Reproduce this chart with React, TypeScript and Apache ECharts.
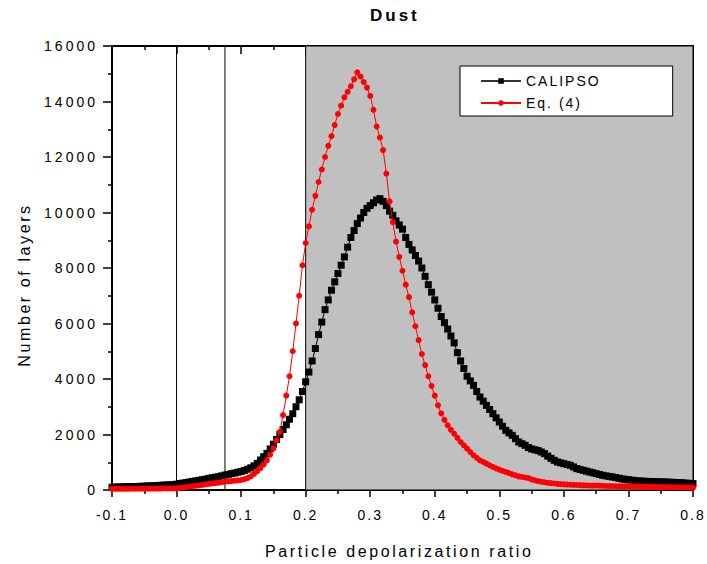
import React, { useEffect, useRef } from "react";
import * as echarts from "echarts";

// x sampling grid of the two curves
const X_START = -0.1;
const X_STEP = 0.005;

// CALIPSO (black squares), one row per 0.05 of depolarization ratio
const CALIPSO: number[] = [
  100, 105, 110, 110, 115, 120, 120, 125, 130, 130,
  140, 145, 150, 155, 160, 170, 175, 180, 190, 195,
  210, 230, 250, 270, 290, 310, 330, 350, 370, 390,
  420, 440, 460, 480, 510, 540, 560, 590, 610, 640,
  670, 700, 750, 800, 870, 960, 1080, 1200, 1320, 1480,
  1650, 1820, 2000, 2180, 2350, 2550, 2750, 3000, 3250, 3550,
  3900, 4250, 4650, 5100, 5600, 6050, 6500, 6850, 7200, 7500,
  7800, 8100, 8400, 8750, 9100, 9350, 9600, 9800, 10000, 10150,
  10250, 10350, 10450, 10500, 10400, 10250, 10050, 9900, 9700, 9550,
  9400, 9100, 8850, 8650, 8450, 8250, 8000, 7700, 7400, 7130,
  6850, 6550, 6250, 6030, 5800, 5550, 5300, 4950, 4650, 4380,
  4100, 3930, 3770, 3550, 3350, 3200, 3050, 2900, 2750, 2600,
  2450, 2300, 2150, 2060, 1970, 1850, 1730, 1670, 1610, 1530,
  1480, 1450, 1420, 1370, 1310, 1220, 1140, 1070, 1010, 980,
  950, 920, 890, 830, 770, 740, 710, 680, 650, 620,
  590, 560, 530, 510, 490, 470, 450, 425, 400, 385,
  370, 355, 340, 330, 320, 315, 310, 305, 300, 295,
  290, 290, 285, 280, 275, 270, 265, 255, 245, 240,
  230,
];

// Eq. (4) (red circles)
const EQ4: number[] = [
  40, 40, 42, 42, 44, 44, 45, 45, 46, 46,
  48, 48, 50, 50, 52, 52, 54, 55, 56, 58,
  60, 75, 90, 105, 120, 135, 150, 165, 180, 200,
  220, 235, 250, 265, 280, 300, 310, 320, 335, 345,
  360, 390, 430, 490, 580, 680, 790, 920, 1070, 1270,
  1500, 1780, 2100, 2700, 3400, 4100, 5000, 6000, 7000, 8100,
  8900, 9500, 10100, 10600, 11100, 11550, 12000, 12400, 12750, 13150,
  13550, 13850, 14150, 14350, 14550, 14800, 15050, 14900, 14700, 14500,
  14200, 13700, 13100, 12700, 12250, 11400, 10400, 9650, 8950, 8400,
  7900, 7400, 6950, 6400, 5900, 5400, 4900, 4500, 4100, 3750,
  3400, 3050, 2760, 2530, 2330, 2170, 2030, 1880, 1730, 1610,
  1490, 1370, 1250, 1160, 1070, 1010, 950, 890, 830, 780,
  735, 690, 650, 610, 565, 530, 490, 470, 450, 430,
  380, 350, 320, 300, 280, 260, 250, 235, 220, 210,
  205, 195, 190, 185, 180, 175, 170, 165, 160, 160,
  160, 155, 150, 145, 140, 138, 135, 133, 130, 130,
  130, 128, 125, 122, 120, 118, 116, 114, 112, 110,
  110, 108, 105, 103, 100, 98, 95, 92, 90, 88,
  85,
];

const X_MIN = -0.1;
const X_MAX = 0.8;
const X_INTERVAL = 0.1;
const Y_MIN = 0;
const Y_MAX = 16000;
const Y_INTERVAL = 2000;
const SHADE_FROM = 0.2;
const SHADE_TO = 0.8;
const VLINES = [0, 0.075];

const FONT = "'Liberation Sans', Arial, sans-serif";

const toPairs = (vals: number[]) =>
  vals.map((v, i) => [Number((X_START + i * X_STEP).toFixed(3)), v]);

function applySpacing(dom: HTMLElement) {
  dom.querySelectorAll("text").forEach((t) => {
    const s = t.textContent || "";
    let ls = 2;
    if (s === "Dust") ls = 3;
    else if (s.startsWith("Particle") || s.startsWith("Number")) ls = 2.6;
    else if (s === "CALIPSO" || s === "Eq. (4)") ls = 2;
    else if (/^\d+$/.test(s)) ls = 3;
    (t as SVGTextElement).style.letterSpacing = ls + "px";
  });
}

export default function App() {
  const ref = useRef<HTMLDivElement>(null);
  useEffect(() => {
    if (!ref.current) return;
    const chart = echarts.init(ref.current, undefined, { renderer: "svg" });
    const tickColor = "#000";
    const vlineSeries = VLINES.map((v, i) => ({
      name: "vline" + i,
      type: "line",
      xAxisIndex: 0,
      yAxisIndex: 0,
      data: [
        [v, Y_MIN],
        [v, Y_MAX],
      ],
      symbol: "none",
      silent: true,
      z: 2,
      lineStyle: { color: "#000", width: 1 },
    }));
    const option: any = {
      animation: false,
      backgroundColor: "#fff",
      title: {
        text: "Dust",
        left: 370,
        top: 7,
        padding: 0,
        textStyle: { fontFamily: FONT, fontSize: 17, fontWeight: "bold", color: "#000" },
      },
      legend: {
        left: 460,
        top: 66,
        orient: "vertical",
        selectedMode: false,
        backgroundColor: "#fff",
        borderColor: "#000",
        borderWidth: 1,
        borderRadius: 0,
        padding: [7, 86, 5, 20],
        itemWidth: 40,
        itemHeight: 7,
        itemGap: 6,
        textStyle: { fontFamily: FONT, fontSize: 14, color: "#000", lineHeight: 16 },
        data: [
          { name: "CALIPSO", itemStyle: { color: "#000" }, lineStyle: { color: "#333" } },
          { name: "Eq. (4)", itemStyle: { color: "#ff0000" }, lineStyle: { color: "#ff0000" } },
        ],
      },
      grid: { left: 112, right: 14, top: 46, bottom: 74, containLabel: false },
      xAxis: [
        {
          type: "value",
          position: "bottom",
          min: X_MIN,
          max: X_MAX,
          interval: X_INTERVAL,
          axisLine: { show: true, onZero: false, lineStyle: { color: "#000", width: 2 } },
          axisTick: { show: true, inside: false, length: 7, lineStyle: { color: tickColor, width: 1.5 } },
          minorTick: { show: true, splitNumber: 2, length: 4, lineStyle: { color: tickColor, width: 1.5 } },
          splitLine: { show: false },
          axisLabel: {
            margin: 18,
            fontFamily: FONT,
            fontSize: 14,
            color: "#000",
            formatter: (v: number) => v.toFixed(1),
          },
        },
        {
          type: "value",
          position: "top",
          min: X_MIN,
          max: X_MAX,
          interval: X_INTERVAL,
          axisLine: { show: true, onZero: false, lineStyle: { color: "#000", width: 2 } },
          axisTick: { show: true, inside: true, length: 8, lineStyle: { color: tickColor, width: 1.5 } },
          minorTick: { show: true, splitNumber: 2, length: 4, lineStyle: { color: tickColor, width: 1.5 } },
          splitLine: { show: false },
          axisLabel: { show: false },
        },
      ],
      yAxis: [
        {
          type: "value",
          position: "left",
          min: Y_MIN,
          max: Y_MAX,
          interval: Y_INTERVAL,
          axisLine: { show: true, onZero: false, lineStyle: { color: "#000", width: 2 } },
          axisTick: { show: true, inside: false, length: 9, lineStyle: { color: tickColor, width: 1.5 } },
          minorTick: { show: true, splitNumber: 2, length: 4, lineStyle: { color: tickColor, width: 1.5 } },
          splitLine: { show: false },
          axisLabel: {
            margin: 14,
            fontFamily: FONT,
            fontSize: 14,
            color: "#000",
            formatter: (v: number) => String(v),
          },
        },
        {
          type: "value",
          position: "right",
          min: Y_MIN,
          max: Y_MAX,
          interval: Y_INTERVAL,
          axisLine: { show: true, onZero: false, lineStyle: { color: "#000", width: 2 } },
          axisTick: { show: true, inside: true, length: 9, lineStyle: { color: tickColor, width: 1.5 } },
          minorTick: { show: true, splitNumber: 2, length: 5, lineStyle: { color: tickColor, width: 1.5 } },
          splitLine: { show: false },
          axisLabel: { show: false },
        },
      ],
      graphic: [
        {
          type: "text",
          left: 401 - 136,
          top: 543,
          style: {
            text: "Particle depolarization ratio",
            font: `16px ${FONT}`,
            fill: "#000",
          },
        },
        {
          type: "text",
          x: 24,
          y: 285,
          rotation: Math.PI / 2,
          style: {
            text: "Number of layers",
            font: `16px ${FONT}`,
            fill: "#000",
            align: "center",
            verticalAlign: "middle",
          },
        },
      ],
      series: [
        {
          name: "shade",
          type: "line",
          xAxisIndex: 0,
          yAxisIndex: 0,
          data: [],
          z: 1,
          silent: true,
          markArea: {
            silent: true,
            itemStyle: { color: "#c0c0c0", borderColor: "#000", borderWidth: 1 },
            data: [[{ xAxis: SHADE_FROM }, { xAxis: SHADE_TO }]],
          },
        },
        ...vlineSeries,
        {
          name: "CALIPSO",
          type: "line",
          xAxisIndex: 0,
          yAxisIndex: 0,
          data: toPairs(CALIPSO),
          symbol: "rect",
          symbolSize: 7,
          showAllSymbol: true,
          z: 3,
          itemStyle: { color: "#000" },
          lineStyle: { color: "#000", width: 1 },
        },
        {
          name: "Eq. (4)",
          type: "line",
          xAxisIndex: 0,
          yAxisIndex: 0,
          data: toPairs(EQ4),
          symbol: "circle",
          symbolSize: 6,
          showAllSymbol: true,
          z: 4,
          itemStyle: { color: "#ff0000" },
          lineStyle: { color: "#ff0000", width: 1 },
        },
      ],
    };
    chart.setOption(option);
    applySpacing(ref.current);
    return () => chart.dispose();
  }, []);
  return (
    <div
      ref={ref}
      style={{ position: "fixed", left: 0, top: 0, width: 707, height: 564, background: "#fff" }}
    />
  );
}
